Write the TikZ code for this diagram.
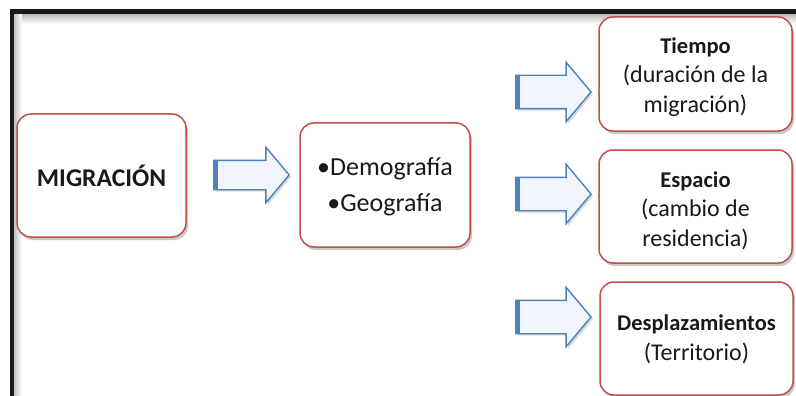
\documentclass[tikz,border=0pt]{standalone}
\usepackage{fontspec}
\setmainfont{Carlito}
\usetikzlibrary{shapes.arrows,shadows}
\definecolor{boxred}{HTML}{C0504D}
\definecolor{arrblue}{HTML}{4F81BD}
\definecolor{arrfill}{HTML}{F1F5FB}
\newcommand\ttlfont{\fontsize{22.5}{29.5}\selectfont\bfseries}
\tikzset{
  rbox/.style={draw=boxred, line width=1.5pt, fill=white, rounded corners=14pt,
    drop shadow={shadow xshift=2pt, shadow yshift=-3pt, opacity=0.35, fill=black!60}},
  barrow/.style={single arrow, draw=arrblue, line width=1.4pt, fill=arrfill,
    inner xsep=0pt, single arrow tip angle=100, minimum height=75pt,
    drop shadow={shadow xshift=2pt, shadow yshift=-2pt, opacity=0.3, fill=black!50}},
  txt/.style={align=center, inner sep=0pt, text=black!90, font=\fontsize{24}{29.5}\selectfont}
}
\begin{document}
\begin{tikzpicture}[x=1pt,y=-1pt]
\useasboundingbox (0,0) rectangle (796,396);
\fill[white] (0,0) rectangle (796,396);
% frame with soft grey inner band
\shade[top color=black!30, bottom color=white] (12,13) rectangle (796,24);
\shade[left color=black!30, right color=white] (12,13) rectangle (22,396);
\fill[black!90] (9.5,9.5) rectangle (796,14);
\fill[black!90] (9.5,9.5) rectangle (13.5,396);
% boxes
\node[rbox, minimum width=169pt, minimum height=123pt] (mig) at (101.5,175.5) {};
\node[rbox, minimum width=170pt, minimum height=124pt] (demo) at (385,185) {};
\node[rbox, minimum width=193pt, minimum height=114pt] (tiempo) at (695.5,74) {};
\node[rbox, minimum width=193pt, minimum height=113pt] (espacio) at (695.5,206.5) {};
\node[rbox, minimum width=193pt, minimum height=113pt] (despl) at (696.5,338.5) {};
% texts
\node[txt, font=\fontsize{25.5}{30}\selectfont\bfseries] (migT) at (mig.center) {MIGRACIÓN};
\node[txt, font=\fontsize{26}{36}\selectfont] (demoT) at ([yshift=-2pt]demo.center) {•Demografía\\•Geografía};
\node[txt] (tiempoT) at ([yshift=-3pt]tiempo.center)
  {{\ttlfont Tiempo}\\(duración de la\\migración)};
\node[txt] (espacioT) at ([yshift=-4pt]espacio.center)
  {{\ttlfont Espacio}\\(cambio de\\residencia)};
\node[txt] (desplT) at ([yshift=-1pt]despl.center)
  {{\ttlfont Desplazamientos}\\(Territorio)};
% block arrows
\node[barrow, inner ysep=14pt, single arrow head extend=13pt] (a1) at (245.5,175) {};
\node[barrow, inner ysep=16pt, single arrow head extend=13pt] (a2) at (546.5,92) {};
\node[barrow, inner ysep=16pt, single arrow head extend=13pt] (a3) at (546.5,194) {};
\node[barrow, inner ysep=16pt, single arrow head extend=13pt] (a4) at (546.5,317) {};
\foreach \a in {a1,a2,a3,a4}{
  \draw[arrblue, line width=5pt] ([xshift=2.5pt]\a.before tail) -- ([xshift=2.5pt]\a.after tail);
}
\end{tikzpicture}
\end{document}
